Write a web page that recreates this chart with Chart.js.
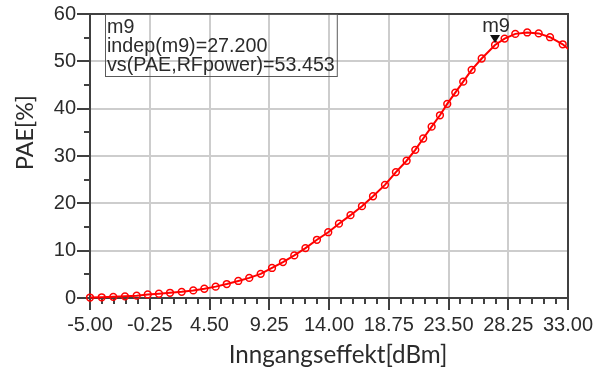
<!DOCTYPE html>
<html>
<head>
<meta charset="utf-8">
<script src="https://cdn.jsdelivr.net/npm/chart.js@4/dist/chart.umd.min.js"></script>
<style>
  html, body { margin: 0; padding: 0; background: #ffffff; }
  #wrap { width: 607px; height: 376px; }
</style>
</head>
<body>
<div id="wrap"><canvas id="c" width="607" height="376"></canvas></div>
<script>
// Swept input power [dBm] and the resulting power-added efficiency [%]
const inputPower = [
  -5.00, -4.07, -3.15, -2.22, -1.29, -0.41, 0.48, 1.36, 2.29, 3.21,
  4.09, 4.99, 5.87, 6.79, 7.66, 8.57, 9.47, 10.34, 11.24, 12.13,
  13.04, 13.94, 14.79, 15.71, 16.62, 17.50, 18.45, 19.32, 20.17, 20.86,
  21.49, 22.16, 22.82, 23.40, 24.04, 24.67, 25.34, 26.14, 27.20, 27.96,
  28.81, 29.76, 30.67, 31.57, 32.58, 33.48
];
const pae = [
  0.10, 0.15, 0.25, 0.35, 0.50, 0.75, 0.90, 1.10, 1.30, 1.60,
  1.95, 2.40, 2.95, 3.60, 4.25, 5.10, 6.35, 7.60, 9.00, 10.55,
  12.30, 13.90, 15.70, 17.50, 19.40, 21.50, 23.90, 26.60, 29.00, 31.30,
  33.70, 36.20, 38.60, 41.00, 43.40, 45.70, 48.20, 50.60, 53.453, 54.80,
  55.80, 56.10, 55.90, 55.10, 53.60, 51.60
];

// Axis ticks
const xTickValues = [-5, -0.25, 4.5, 9.25, 14, 18.75, 23.5, 28.25, 33];
const yTickValues = [0, 10, 20, 30, 40, 50, 60];

// Marker
const markerName = 'm9';
const markerX = 27.2;
const markerY = 53.453;

const xTitle = 'Inngangseffekt[dBm]';
const yTitle = 'PAE[%]';

const points = inputPower.map((v, i) => ({ x: v, y: pae[i] }));
const markerIndex = inputPower.indexOf(markerX);

const AXIS = '#404040';
const GRID = '#cdcdcd';
const TEXT = '#2b2b2b';
const TICK_FONT = { family: '"Liberation Sans", Arial, sans-serif', size: 20 };

function fitFont(ctx, text, family, targetWidth) {
  ctx.font = '26px ' + family;
  const w = ctx.measureText(text).width;
  return Math.round(26 * targetWidth / w * 10) / 10;
}

// Frame, minor ticks and axis titles
const framePlugin = {
  id: 'frame',
  beforeDatasetsDraw(chart) {
    const { ctx, chartArea: a, scales: { x, y } } = chart;
    ctx.save();
    ctx.strokeStyle = AXIS;
    ctx.lineWidth = 2;
    ctx.beginPath();
    for (let i = 0; i < xTickValues.length - 1; i++) {
      const v0 = xTickValues[i], v1 = xTickValues[i + 1];
      for (let k = 1; k < 5; k++) {
        const px = Math.round(x.getPixelForValue(v0 + (v1 - v0) * k / 5));
        ctx.moveTo(px, a.bottom);
        ctx.lineTo(px, a.bottom + 6);
      }
    }
    for (let i = 0; i < yTickValues.length - 1; i++) {
      const py = Math.round(y.getPixelForValue((yTickValues[i] + yTickValues[i + 1]) / 2));
      ctx.moveTo(a.left - 6, py);
      ctx.lineTo(a.left, py);
    }
    ctx.stroke();
    ctx.strokeRect(a.left, a.top, a.right - a.left, a.bottom - a.top);

    // axis titles
    const fam = 'Lato, "Open Sans", sans-serif';
    ctx.fillStyle = TEXT;
    ctx.textAlign = 'center';
    ctx.textBaseline = 'alphabetic';
    const xs = fitFont(ctx, xTitle, fam, 219);
    ctx.font = xs + 'px ' + fam;
    ctx.fillText(xTitle, 338, 363);
    const ys = fitFont(ctx, yTitle, fam, 75);
    ctx.save();
    ctx.translate(33, 132.5);
    ctx.rotate(-Math.PI / 2);
    ctx.font = ys + 'px ' + fam;
    ctx.fillText(yTitle, 0, 0);
    ctx.restore();
    ctx.restore();
  }
};

// Marker symbol and readout box
const markerPlugin = {
  id: 'marker',
  afterDatasetsDraw(chart) {
    const { ctx, chartArea: a } = chart;
    const pt = chart.getDatasetMeta(0).data[markerIndex];
    ctx.save();
    ctx.fillStyle = '#111111';
    ctx.beginPath();
    ctx.moveTo(pt.x - 5, pt.y - 10);
    ctx.lineTo(pt.x + 5, pt.y - 10);
    ctx.lineTo(pt.x, pt.y - 2);
    ctx.closePath();
    ctx.fill();

    ctx.font = '20px "Liberation Sans", Arial, sans-serif';
    ctx.fillStyle = TEXT;
    ctx.textAlign = 'center';
    ctx.textBaseline = 'alphabetic';
    ctx.fillText(markerName, pt.x + 1, pt.y - 13);

    const lines = [
      markerName,
      'indep(' + markerName + ')=' + markerX.toFixed(3),
      'vs(PAE,RFpower)=' + markerY.toFixed(3)
    ];
    ctx.font = '19.7px "Liberation Sans", Arial, sans-serif';
    ctx.textAlign = 'left';
    const bx = a.left + 15.5, by = a.top + 0.5;
    const bw = Math.max(...lines.map(t => ctx.measureText(t).width)) + 4;
    const bh = 62;
    ctx.strokeStyle = '#5a5a5a';
    ctx.lineWidth = 1;
    ctx.strokeRect(bx, by, bw, bh);
    lines.forEach((t, i) => ctx.fillText(t, bx + 1.5, a.top + 19 + i * 19.2));
    ctx.restore();
  }
};

new Chart(document.getElementById('c'), {
  type: 'line',
  data: {
    datasets: [{
      data: points,
      borderColor: '#ff0000',
      borderWidth: 2,
      pointRadius: 3.4,
      pointBorderWidth: 1.5,
      pointBorderColor: '#ff0000',
      pointBackgroundColor: 'rgba(255,255,255,0)',
      tension: 0,
      clip: { left: 6, top: 6, right: 0, bottom: 6 }
    }]
  },
  options: {
    responsive: false,
    animation: false,
    devicePixelRatio: 1,
    layout: { padding: { left: 0, right: 39, top: 14, bottom: 0 } },
    plugins: { legend: { display: false }, tooltip: { enabled: false } },
    scales: {
      x: {
        type: 'linear',
        min: -5,
        max: 33,
        afterBuildTicks: s => { s.ticks = xTickValues.map(v => ({ value: v })); },
        afterFit: s => { s.height = 78; },
        ticks: {
          font: TICK_FONT,
          color: TEXT,
          padding: 3,
          maxRotation: 0,
          autoSkip: false,
          callback: v => Number(v).toFixed(2)
        },
        grid: { color: GRID, lineWidth: 2, tickColor: AXIS, tickWidth: 2, tickLength: 12 },
        border: { display: true, color: AXIS, width: 2 }
      },
      y: {
        type: 'linear',
        min: 0,
        max: 60,
        afterBuildTicks: s => { s.ticks = yTickValues.map(v => ({ value: v })); },
        afterFit: s => { s.width = 90; },
        ticks: {
          font: TICK_FONT,
          color: TEXT,
          padding: 1,
          autoSkip: false,
          callback: v => String(v)
        },
        grid: { color: GRID, lineWidth: 2, tickColor: AXIS, tickWidth: 2, tickLength: 13 },
        border: { display: true, color: AXIS, width: 2 }
      }
    }
  },
  plugins: [framePlugin, markerPlugin]
});
</script>
</body>
</html>
